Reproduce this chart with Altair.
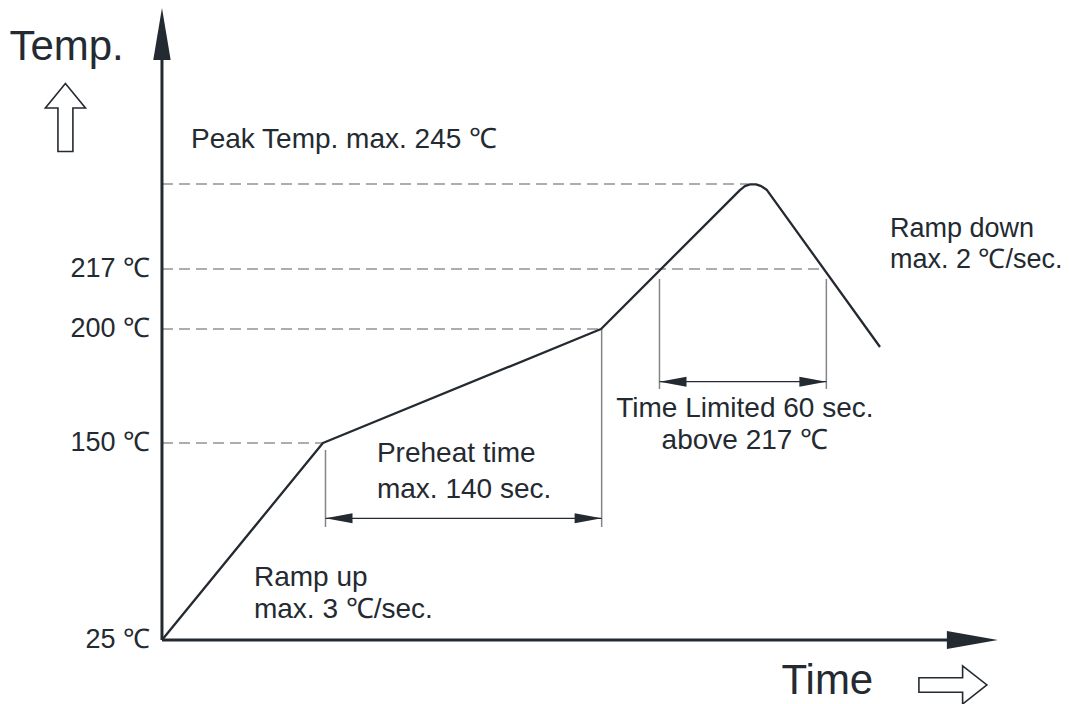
import altair as alt
import pandas as pd

# ---------------- data (schematic reflow profile) ----------------
profile_time = [0, 81, 221, 290.9, 293.4, 296, 299, 301.6, 304.5, 361.4]
profile_temp = [25, 150, 200, 243.0, 244.3, 244.9, 244.9, 244.3, 243.0, 192.1]

tick_temps = [25, 150, 200, 217]
tick_labels = ["25 ℃", "150 ℃", "200 ℃", "217 ℃"]

guide_temps = [150, 200, 217, 245]
guide_end_time = [81, 221, 333, 295]

ext_time = [82.3, 221.3, 250.4, 334.4]
ext_top = [145.6, 200, 214.2, 214.2]
ext_bottom = [96.7, 96.7, 173.7, 173.7]

dim_start = [82.3, 250.4]
dim_end = [221.3, 334.4]
dim_temp = [102.2, 176.9]

left_text = ["Peak Temp. max. 245 ℃", "Ramp up", "max. 3 ℃/sec.",
             "Preheat time", "max. 140 sec."]
left_text_t = [14.6, 46.3, 46.3, 108.2, 108.2]
left_text_T = [256.9, 59.5, 39.0, 138.1, 115.1]

right_note = ["Ramp down", "max. 2 ℃/sec."]
right_note_t = [366.4, 366.4]
right_note_T = [227.6, 217.2]

center_text = ["Time Limited 60 sec.", "above 217 ℃"]
center_text_t = [293.4, 293.4]
center_text_T = [161.5, 146.0]

big_text = ["Temp.", "Time"]
big_text_t = [-76.8, 311.8]
big_text_T = [285.8, -9.3]

DARK = "#242a31"
GREY = "#5c5c5c"
FONT = "Liberation Sans"

X = alt.Scale(domain=[-77.5, 452.5], range=[0, 1053], zero=False, nice=False)
Y = alt.Scale(domain=[25, 150, 200, 217, 245], range=[632, 435, 321, 261, 176],
              zero=False, nice=False)


def xq(f):
    return alt.X(f, type="quantitative", scale=X, axis=None)


def yq(f):
    return alt.Y(f, type="quantitative", scale=Y, axis=None)


# guides (dashed)
guides = alt.Chart(pd.DataFrame({"t0": [0] * 4, "t1": guide_end_time, "T": guide_temps})).mark_rule(
    color=GREY, strokeWidth=1.2, strokeDash=[11, 6]
).encode(x=xq("t0"), x2="t1", y=yq("T"))

# extension lines
ext = alt.Chart(pd.DataFrame({"t": ext_time, "T1": ext_top, "T2": ext_bottom})).mark_rule(
    color="#858585", strokeWidth=1.5
).encode(x=xq("t"), y=yq("T1"), y2="T2")

# dimension lines
dims = alt.Chart(pd.DataFrame({"t0": dim_start, "t1": dim_end, "T": dim_temp})).mark_rule(
    color=DARK, strokeWidth=1.3
).encode(x=xq("t0"), x2="t1", y=yq("T"))

dim_left = alt.Chart(pd.DataFrame({"t": dim_start, "T": dim_temp})).mark_point(
    shape="M0,0L2,-0.37L2,0.37Z", filled=True, size=729, color=DARK, opacity=1, strokeWidth=0
).encode(x=xq("t"), y=yq("T"))

dim_right = alt.Chart(pd.DataFrame({"t": dim_end, "T": dim_temp})).mark_point(
    shape="M0,0L-2,-0.37L-2,0.37Z", filled=True, size=729, color=DARK, opacity=1, strokeWidth=0
).encode(x=xq("t"), y=yq("T"))

# axes
y_axis = alt.Chart(pd.DataFrame({"t": [0], "T1": [25], "T2": [287]})).mark_rule(
    color=DARK, strokeWidth=3
).encode(x=xq("t"), y=yq("T1"), y2="T2")

x_axis = alt.Chart(pd.DataFrame({"t0": [0], "t1": [396], "T": [25]})).mark_rule(
    color=DARK, strokeWidth=3
).encode(x=xq("t0"), x2="t1", y=yq("T"))

y_head = alt.Chart(pd.DataFrame({"t": [0], "T": [294.4]})).mark_point(
    shape="M0,-1L0.335,1L-0.335,1Z", filled=True, size=2704, color=DARK, opacity=1, strokeWidth=0
).encode(x=xq("t"), y=yq("T"))

x_head = alt.Chart(pd.DataFrame({"t": [407.9], "T": [25]})).mark_point(
    shape="M1,0L-1,0.35L-1,-0.35Z", filled=True, size=2601, color=DARK, opacity=1, strokeWidth=0
).encode(x=xq("t"), y=yq("T"))

# hollow direction arrows
up_arrow = alt.Chart(pd.DataFrame({"t": [-48.6], "T": [266.9]})).mark_point(
    shape="M0,-1L0.59,-0.28L0.22,-0.28L0.22,1L-0.22,1L-0.22,-0.28L-0.59,-0.28Z",
    filled=True, fill="white", stroke=DARK, strokeWidth=1.6, size=4624, opacity=1
).encode(x=xq("t"), y=yq("T"))

right_arrow = alt.Chart(pd.DataFrame({"t": [398.1], "T": [-3.55]})).mark_point(
    shape="M1,0L0.285,0.56L0.285,0.215L-1,0.215L-1,-0.215L0.285,-0.215L0.285,-0.56Z",
    filled=True, fill="white", stroke=DARK, strokeWidth=1.6, size=4624, opacity=1
).encode(x=xq("t"), y=yq("T"))

# profile curve
curve = alt.Chart(pd.DataFrame({"t": profile_time, "T": profile_temp,
                                "o": list(range(len(profile_time)))})).mark_line(
    color=DARK, strokeWidth=2.3, strokeJoin="round"
).encode(x=xq("t"), y=yq("T"), order="o:Q")

# tick labels
ticks = alt.Chart(pd.DataFrame({"t": [-6.0] * 4, "T": tick_temps, "lab": tick_labels})).mark_text(
    align="right", baseline="middle", font=FONT, fontSize=27, color=DARK
).encode(x=xq("t"), y=yq("T"), text="lab:N")

texts_left = alt.Chart(pd.DataFrame({"t": left_text_t, "T": left_text_T, "s": left_text})).mark_text(
    align="left", baseline="alphabetic", font=FONT, fontSize=28, color=DARK
).encode(x=xq("t"), y=yq("T"), text="s:N")

texts_right = alt.Chart(pd.DataFrame({"t": right_note_t, "T": right_note_T, "s": right_note})).mark_text(
    align="left", baseline="alphabetic", font=FONT, fontSize=27, color=DARK
).encode(x=xq("t"), y=yq("T"), text="s:N")

texts_center = alt.Chart(pd.DataFrame({"t": center_text_t, "T": center_text_T, "s": center_text})).mark_text(
    align="center", baseline="alphabetic", font=FONT, fontSize=28, color=DARK
).encode(x=xq("t"), y=yq("T"), text="s:N")

texts_big = alt.Chart(pd.DataFrame({"t": big_text_t, "T": big_text_T, "s": big_text})).mark_text(
    align="left", baseline="alphabetic", font=FONT, fontSize=42, color=DARK
).encode(x=xq("t"), y=yq("T"), text="s:N")

chart = alt.layer(
    guides, ext, dims, dim_left, dim_right, y_axis, x_axis, y_head, x_head,
    up_arrow, right_arrow, curve, ticks, texts_left, texts_right, texts_center, texts_big
).properties(
    width=1053, height=696,
    autosize=alt.AutoSizeParams(type="none"),
    padding=0,
    background="white",
).configure_view(stroke=None)

chart.save("out.html", embed_options={"renderer": "svg", "actions": False})
